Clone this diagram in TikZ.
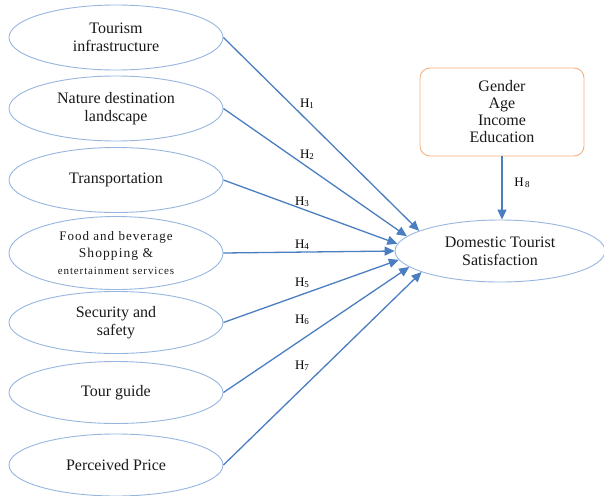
\documentclass[tikz,border=0pt]{standalone}
\usepackage{fontspec}
\setmainfont{Liberation Serif}
\newfontfamily\spacedfont[LetterSpace=8]{Liberation Serif}
\usetikzlibrary{arrows.meta,shapes.geometric}
\definecolor{ellblue}{RGB}{150,182,224}
\definecolor{arrblue}{RGB}{74,126,192}
\definecolor{boxorange}{RGB}{246,176,126}
\tikzset{
  factor/.style={ellipse,draw=ellblue,line width=0.9pt,minimum width=214pt,minimum height=65pt,inner sep=0pt,align=center,font=\fontsize{16}{18}\selectfont,text=black!90},
  hyp/.style={draw=arrblue,line width=1.3pt,-{Triangle[length=10pt,width=9pt]}},
  hlab/.style={font=\fontsize{13}{15}\selectfont,inner sep=0pt},
}
\newcommand{\hs}[1]{H{\fontsize{9}{10}\selectfont\raisebox{-1pt}{#1}}}
\begin{document}
\begin{tikzpicture}[x=1pt,y=-1pt]
\useasboundingbox (0,0) rectangle (604,495);
\node[factor] (e1) at (116,37.5) {Tourism\\infrastructure};
\node[factor] (e2) at (116,108.5) {Nature destination\\landscape};
\node[factor] (e3) at (116,180) {Transportation};
\node[factor,minimum height=73pt] (e4) at (116,253) {{\spacedfont\fontsize{13}{15}\selectfont Food and beverage}\\[-1pt]{\spacedfont\fontsize{13.5}{14}\selectfont Shopping \&}\\[-1pt]{\spacedfont\fontsize{11}{13}\selectfont entertainment services}};
\node[factor,minimum height=62pt] (e5) at (116,322.5) {Security and\\safety};
\node[factor,minimum height=62pt] (e6) at (116,392.5) {Tour guide};
\node[factor,minimum height=62pt] (e7) at (116,465) {Perceived Price};
\node[factor,minimum width=210pt,minimum height=62pt] (dts) at (500,251) {Domestic Tourist\\Satisfaction};
\node[draw=boxorange,line width=0.9pt,rounded corners=10pt,minimum width=164pt,minimum height=88pt,align=center,font=\fontsize{16}{17}\selectfont,text=black!90] (ctrl) at (502,112) {Gender\\Age\\Income\\Education};
\draw[hyp] (e1.east) -- (dts.166);
\draw[hyp] (e2.east) -- (dts.171);
\draw[hyp] (e3.east) -- (dts.176);
\draw[hyp] (e4.east) -- (dts.180);
\draw[hyp] (e5.east) -- (dts.185);
\draw[hyp] (e6.east) -- (dts.190);
\draw[hyp] (e7.east) -- (dts.195);
\draw[hyp] (ctrl.south) -- (ctrl.south |- dts.north);
\node[hlab] (h1) at (307,104) {\hs{1}};
\node[hlab] (h2) at (307,155) {\hs{2}};
\node[hlab] (h3) at (302,202) {\hs{3}};
\node[hlab] (h4) at (302,245) {\hs{4}};
\node[hlab] (h5) at (302,283) {\hs{5}};
\node[hlab] (h6) at (302,320) {\hs{6}};
\node[hlab] (h7) at (302,366) {\hs{7}};
\node[hlab] (h8) at (522,183) {\hs{\,8}};
\end{tikzpicture}
\end{document}
